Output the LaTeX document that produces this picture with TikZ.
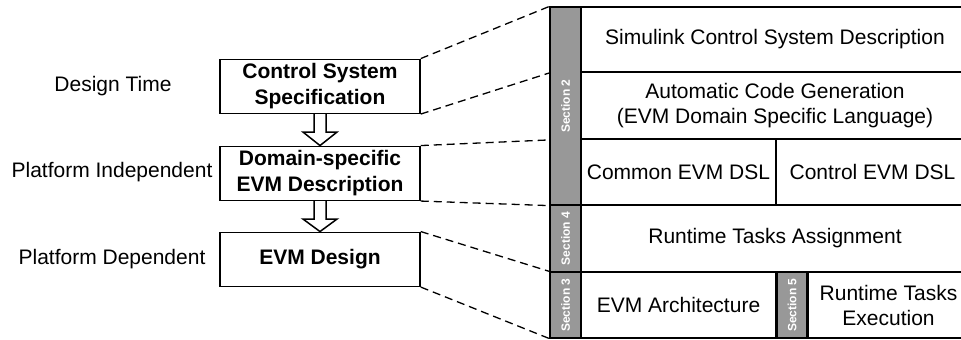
\documentclass[tikz,border=0pt]{standalone}
\usepackage{fontspec}
\setmainfont{Liberation Sans}
\usetikzlibrary{calc}
\definecolor{secgray}{RGB}{152,152,152}
\tikzset{
  stage/.style={draw, line width=0.75pt, minimum width=100pt, minimum height=27pt, inner sep=0pt, align=center, font=\fontsize{10.5}{13}\selectfont\bfseries},
  phase/.style={inner sep=0pt, font=\fontsize{10.5}{13}\selectfont},
  cell/.style={draw, line width=0.9pt, inner sep=0pt, align=center, font=\fontsize{10.5}{12.5}\selectfont},
  secbar/.style={draw, fill=secgray, line width=0.6pt, inner sep=0pt, minimum width=15.5pt},
  seclabel/.style={rotate=90, inner sep=0pt, text=white, font=\fontsize{6}{7}\selectfont\bfseries},
  zoomline/.style={dash pattern=on 4pt off 2.5pt, line width=0.65pt},
  hollow/.style={draw, fill=white, line width=0.75pt, line join=miter},
}
\begin{document}
\begin{tikzpicture}[x=0.5pt, y=-0.5pt]
\useasboundingbox (0,0) rectangle (961,339);
\node[stage] (spec) at (320,86.3){Control System\\Specification};
\node[stage] (dsl) at (320,173.3){Domain-specific\\EVM Description};
\node[stage] (evm) at (320,259.3){EVM Design};
\node[phase] (ph0) at (113,86.3){Design Time};
\node[phase] (ph1) at (112,172){Platform Independent};
\node[phase] (ph2) at (112,259.3){Platform Dependent};
\draw[hollow] ($(spec.south)+(-6,0)$) -- ($(spec.south)+(-6,18)$) -- ($(spec.south)+(-17,18)$) -- (dsl.north) -- ($(spec.south)+(17,18)$) -- ($(spec.south)+(6,18)$) -- ($(spec.south)+(6,0)$);
\draw[hollow] ($(dsl.south)+(-6,0)$) -- ($(dsl.south)+(-6,18)$) -- ($(dsl.south)+(-17,18)$) -- (evm.north) -- ($(dsl.south)+(17,18)$) -- ($(dsl.south)+(6,18)$) -- ($(dsl.south)+(6,0)$);
\node[cell, minimum width=194pt, minimum height=32.5pt] (simu) at (775,39.5){Simulink Control System Description};
\node[cell, minimum width=194pt, minimum height=33.5pt] (gen) at (775,105.5){Automatic Code Generation\\(EVM Domain Specific Language)};
\node[cell, minimum width=97.5pt, minimum height=33pt] (common) at (678.5,172){Common EVM DSL};
\node[cell, minimum width=96.5pt, minimum height=33pt] (ctrl) at (872.5,172){Control EVM DSL};
\node[cell, minimum width=194pt, minimum height=33.5pt] (assign) at (775,238.5){Runtime Tasks Assignment};
\node[cell, minimum width=97.5pt, minimum height=33pt] (arch) at (678.5,305){EVM Architecture};
\node[cell, minimum width=80.5pt, minimum height=33pt] (exec) at (888.5,305){Runtime Tasks\\Execution};
\node[secbar, minimum height=99pt] (sec2) at (565.5,106){};
\node[secbar, minimum height=33.5pt] (sec4) at (565.5,238.5){};
\node[secbar, minimum height=33pt] (sec3) at (565.5,305){};
\node[secbar, minimum width=15pt, minimum height=33pt] (sec5) at (792,305){};
\node[seclabel] (lab2) at (sec2.center){Section 2};
\node[seclabel] (lab4) at (sec4.center){Section 4};
\node[seclabel] (lab3) at (sec3.center){Section 3};
\node[seclabel] (lab5) at (sec5.center){Section 5};
\coordinate (cut1) at (sec2.west |- simu.south);
\coordinate (cut2) at (sec2.west |- gen.south);
\draw[zoomline] (spec.north east) -- (sec2.north west);
\draw[zoomline] (spec.south east) -- (cut1);
\draw[zoomline] (dsl.north east) -- (cut2);
\draw[zoomline] (dsl.south east) -- (sec2.south west);
\draw[zoomline] (evm.north east) -- (sec3.north west);
\draw[zoomline] (evm.south east) -- (sec3.south west);
\end{tikzpicture}
\end{document}
